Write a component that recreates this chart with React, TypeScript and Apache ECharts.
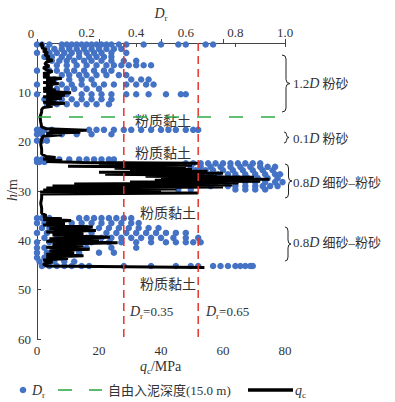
import React, { useEffect, useRef } from "react";
import * as echarts from "echarts";

const FONT = "'Liberation Serif', 'Noto Sans CJK SC', serif";
const TXT = "#333";

// Dr scatter rows: [depth (m), ...Dr values]
const drRowsUpperSilt: number[][] = [
  [0.3, 0.0, 0.02, 0.05, 0.1, 0.12, 0.14, 0.16, 0.18, 0.2, 0.22, 0.24, 0.26, 0.28, 0.3, 0.33, 0.36, 0.43, 0.5, 0.57, 0.6, 0.68, 0.71],
  [1.2, 0.04, 0.07, 0.1, 0.13, 0.16, 0.19, 0.22, 0.25, 0.28, 0.31, 0.34],
  [2.0, 0.0, 0.05, 0.08, 0.11, 0.14, 0.17, 0.2, 0.23, 0.26, 0.3, 0.36],
  [2.8, 0.03, 0.06, 0.1, 0.13, 0.17, 0.21, 0.24, 0.27, 0.3],
  [3.6, 0.06, 0.09, 0.12, 0.15, 0.19, 0.22, 0.26, 0.3, 0.35, 0.4],
  [4.5, 0.08, 0.12, 0.16, 0.2, 0.24, 0.28, 0.31, 0.34, 0.37, 0.4, 0.43, 0.46],
  [5.6, 0.0, 0.05, 0.08, 0.12, 0.15, 0.19, 0.23, 0.27, 0.3],
  [6.5, 0.1, 0.13, 0.17, 0.2, 0.24, 0.28, 0.33, 0.36],
  [7.4, 0.07, 0.13, 0.18, 0.22, 0.38, 0.42, 0.45],
  [8.4, 0.0, 0.1, 0.14, 0.18, 0.23, 0.27, 0.31, 0.36, 0.4, 0.44, 0.47],
  [9.3, 0.08, 0.12, 0.15, 0.2, 0.25],
  [10.4, 0.0, 0.12, 0.18, 0.22, 0.26, 0.3, 0.36, 0.4, 0.45, 0.52, 0.58, 0.6],
  [11.4, 0.03, 0.07, 0.1, 0.14, 0.18, 0.22, 0.26, 0.3],
  [12.4, 0.04, 0.08, 0.12, 0.16, 0.2, 0.24, 0.29],
];

const drRowsMiddle: number[][] = [
  [17.6, 0.0, 0.01, 0.03, 0.06, 0.21, 0.24, 0.27, 0.31, 0.35, 0.38, 0.42, 0.46, 0.5, 0.53, 0.56, 0.6, 0.63, 0.65],
  [18.5, 0.0, 0.02, 0.05, 0.1, 0.16, 0.22, 0.3],
  [19.8, 0.0, 0.02, 0.04],
  [23.6, 0.0, 0.02, 0.05, 0.09, 0.13, 0.17, 0.2, 0.23, 0.26, 0.29, 0.31],
  [24.1, 0.0, 0.01, 0.03],
];

const drRowsFineSand1: number[][] = [
  [24.4, 0.6, 0.63, 0.66, 0.69, 0.72, 0.75, 0.78, 0.81, 0.84, 0.87, 0.9],
  [25.1, 0.62, 0.66, 0.7, 0.74, 0.78, 0.82, 0.86, 0.9, 0.93, 0.96],
  [25.8, 0.64, 0.68, 0.71, 0.75, 0.79, 0.83, 0.87, 0.91, 0.95],
  [26.6, 0.66, 0.7, 0.73, 0.77, 0.8, 0.84, 0.88, 0.92, 0.96, 0.98],
  [27.4, 0.7, 0.74, 0.77, 0.81, 0.85, 0.89, 0.93, 0.97],
  [28.2, 0.68, 0.72, 0.76, 0.8, 0.84, 0.88, 0.92, 0.96, 0.99],
  [29.0, 0.7, 0.77, 0.8, 0.84, 0.88, 0.91, 0.94, 0.97],
  [29.7, 0.12, 0.31, 0.57, 0.62, 0.8, 0.84, 0.88, 0.92],
];

const drRowsFineSand2: number[][] = [
  [35.5, 0.0, 0.02, 0.05, 0.17, 0.2, 0.23, 0.26, 0.29, 0.32, 0.35, 0.38],
  [36.5, 0.0, 0.03, 0.06, 0.1, 0.14, 0.18, 0.22, 0.26, 0.3, 0.34, 0.38, 0.41],
  [37.5, 0.02, 0.05, 0.08, 0.13, 0.2, 0.25, 0.29, 0.33, 0.37, 0.41, 0.45, 0.49],
  [38.5, 0.0, 0.04, 0.1, 0.16, 0.22, 0.28, 0.32, 0.36, 0.4, 0.44, 0.48, 0.52, 0.56, 0.6],
  [39.5, 0.03, 0.08, 0.12, 0.2, 0.26, 0.3, 0.34, 0.38, 0.42, 0.46, 0.5, 0.55, 0.6, 0.65],
  [40.4, 0.0, 0.05, 0.22, 0.29, 0.34, 0.4, 0.46, 0.52, 0.56, 0.6, 0.63, 0.66],
  [41.5, 0.0, 0.03, 0.07, 0.12, 0.2, 0.3, 0.4],
  [42.5, 0.0, 0.04, 0.17, 0.25, 0.31],
  [43.5, 0.0, 0.03, 0.06, 0.1],
  [44.3, 0.01, 0.04, 0.07, 0.11, 0.15],
  [45.2, 0.02, 0.05, 0.08, 0.11, 0.14, 0.18, 0.21, 0.35, 0.46, 0.56, 0.62, 0.65, 0.71, 0.74, 0.77, 0.8, 0.82, 0.84, 0.86, 0.87],
];

// qc trace: [qc (MPa), depth (m)]
const qcTrace: number[][] = [
  [2, 0], [1, 0.3], [2, 0.6], [1.5, 1], [3, 1.3], [2, 1.7], [3.5, 2], [2.5, 2.4], [4, 2.8], [3, 3.2], [5, 3.5], [3, 3.9],
  [2.5, 4.3], [4, 4.7], [2, 5], [3, 5.4], [5, 5.8], [2, 6.2], [4, 6.5], [2, 6.9], [8, 7.2], [3, 7.4], [6, 7.8], [2, 8],
  [7, 8.2], [3, 8.5], [5, 8.9], [2, 9.2], [6, 9.5], [2, 9.8], [11, 10.1], [3, 10.3], [9, 10.6], [2, 10.9], [8, 11.2],
  [3, 11.5], [6, 11.8], [2, 12], [9, 12.2], [3, 12.5], [5, 12.8], [2, 13.1], [1.5, 13.5], [1.5, 14], [1, 15], [1.2, 16],
  [1.5, 17], [3, 17.4], [16, 17.7], [4, 17.9], [14, 18.1], [3, 18.3], [8, 18.6], [2, 18.9], [1.5, 19.5], [1.2, 20.5],
  [1.5, 21.5], [1.5, 22.5], [3, 23], [6, 23.2], [2, 23.5], [8, 23.8], [3, 24], [15, 24.2], [52, 24.4], [20, 24.6],
  [50, 24.8], [10, 25], [48, 25.2], [25, 25.4], [50, 25.6], [30, 25.8], [55, 26], [20, 26.2], [60, 26.4], [22, 26.6],
  [58, 26.8], [35, 27], [70, 27.2], [40, 27.4], [75, 27.6], [38, 27.8], [72, 28], [30, 28.2], [65, 28.4], [12, 28.6],
  [63, 28.8], [5, 29], [60, 29.2], [3, 29.4], [45, 29.6], [2, 29.8], [40, 30], [1, 30.2], [52, 30.4], [1.5, 30.6],
  [1.5, 31.5], [1.2, 32.5], [1.5, 33.5], [1.5, 34.5], [3, 35], [2, 35.3], [8, 35.6], [2, 35.8], [11, 36], [3, 36.3],
  [9, 36.6], [2, 36.9], [18, 37.3], [4, 37.6], [19, 38], [3, 38.3], [15, 38.6], [5, 38.9], [23.5, 39.4], [4, 39.7],
  [20, 40], [3, 40.2], [26, 40.5], [5, 40.8], [15, 41.1], [3, 41.4], [17, 41.8], [4, 42.1], [12, 42.5], [3, 42.8],
  [15, 43.1], [3, 43.4], [10, 43.7], [2, 44], [5, 44.4], [2, 44.8], [3, 45.2], [54, 45.5],
];

const mudDepth = 15.0;
const drThresholds = [0.35, 0.65];
const qcTicks = [0, 20, 40, 60, 80];
const drTicks = [0, 0.2, 0.4, 0.6, 0.8, 1.0];
const depthTicks = [0, 10, 20, 30, 40, 50, 60];

const rowsToPoints = (rows: number[][]) =>
  rows.flatMap(([d, ...vals]) => vals.map((v) => [v, d]));

const RICH = {
  i: { fontStyle: "italic", fontSize: 14, lineHeight: 18, fontFamily: FONT, fill: TXT, color: TXT },
  s: { fontSize: 9, lineHeight: 9, verticalAlign: "bottom", fontFamily: FONT, fill: TXT, color: TXT },
  n: { fontSize: 13, lineHeight: 18, fontFamily: FONT, fill: TXT, color: TXT },
};

function txt(text: string, x: number, y: number, align = "left", size = 13, rotation = 0) {
  return {
    type: "text",
    x,
    y,
    rotation,
    silent: true,
    style: {
      text,
      fontSize: size,
      lineHeight: 18,
      fontFamily: FONT,
      fill: TXT,
      align,
      verticalAlign: "middle",
      rich: RICH,
    },
  };
}

function brace(x: number, y1: number, y2: number, w: number) {
  const ym = (y1 + y2) / 2;
  const r = Math.min(4, (y2 - y1) / 4);
  const xm = x + w * 0.5;
  const st = { stroke: "#222", lineWidth: 1, fill: "none" };
  return {
    type: "group",
    silent: true,
    children: [
      { type: "bezierCurve", shape: { x1: x, y1: y1, cpx1: xm, cpy1: y1, x2: xm, y2: y1 + r }, style: st },
      { type: "line", shape: { x1: xm, y1: y1 + r, x2: xm, y2: ym - r }, style: st },
      { type: "bezierCurve", shape: { x1: xm, y1: ym - r, cpx1: xm, cpy1: ym, x2: x + w, y2: ym }, style: st },
      { type: "bezierCurve", shape: { x1: x + w, y1: ym, cpx1: xm, cpy1: ym, x2: xm, y2: ym + r }, style: st },
      { type: "line", shape: { x1: xm, y1: ym + r, x2: xm, y2: y2 - r }, style: st },
      { type: "bezierCurve", shape: { x1: xm, y1: y2 - r, cpx1: xm, cpy1: y2, x2: x, y2: y2 }, style: st },
    ],
  };
}

export default function App() {
  const ref = useRef<HTMLDivElement>(null);
  useEffect(() => {
    if (!ref.current) return;
    const chart = echarts.init(ref.current, undefined, { renderer: "svg" });
    const axisLine = { show: true, lineStyle: { color: "#444", width: 1 } };
    const axisLabel = { fontFamily: FONT, fontSize: 13, color: TXT };
    const option: any = {
      animation: false,
      backgroundColor: "#fff",
      grid: { left: 37, right: 110, top: 43, bottom: 63, containLabel: false, outerBoundsMode: "none" },
      xAxis: [
        {
          type: "value",
          position: "bottom",
          min: qcTicks[0],
          max: qcTicks[qcTicks.length - 1],
          interval: 20,
          axisLine,
          axisTick: { show: true, inside: true, length: 4, lineStyle: { color: "#444" } },
          axisLabel: { ...axisLabel, margin: 5 },
          splitLine: { show: false },
        },
        {
          type: "value",
          position: "top",
          min: drTicks[0],
          max: drTicks[drTicks.length - 1],
          interval: 0.2,
          axisLine,
          axisTick: { show: true, inside: true, length: 4, lineStyle: { color: "#444" } },
          axisLabel: {
            ...axisLabel,
            margin: 4,
            showMinLabel: false,
            formatter: (v: number) => (v === 0 ? "0" : v.toFixed(1)),
          },
          splitLine: { show: false },
        },
      ],
      yAxis: [
        {
          type: "value",
          inverse: true,
          min: depthTicks[0],
          max: depthTicks[depthTicks.length - 1],
          interval: 10,
          axisLine,
          axisTick: { show: true, inside: true, length: 4, lineStyle: { color: "#444" } },
          axisLabel: { ...axisLabel, margin: 6, showMinLabel: false },
          splitLine: { show: false },
        },
      ],
      series: [
        {
          name: "Dr",
          type: "scatter",
          xAxisIndex: 1,
          yAxisIndex: 0,
          symbolSize: 6.5,
          itemStyle: { color: "#4472C4", opacity: 1 },
          data: [
            ...rowsToPoints(drRowsUpperSilt),
            ...rowsToPoints(drRowsMiddle),
            ...rowsToPoints(drRowsFineSand1),
            ...rowsToPoints(drRowsFineSand2),
          ],
          z: 2,
        },
        {
          name: "qc",
          type: "line",
          xAxisIndex: 0,
          yAxisIndex: 0,
          showSymbol: false,
          symbol: "none",
          lineStyle: { color: "#000", width: 3 },
          data: qcTrace,
          z: 3,
        },
        {
          name: "mud",
          type: "line",
          xAxisIndex: 0,
          yAxisIndex: 0,
          symbol: "none",
          lineStyle: { color: "#2eaa48", width: 1.6, type: [14, 18] },
          data: [
            [qcTicks[0], mudDepth],
            [qcTicks[qcTicks.length - 1], mudDepth],
          ],
          z: 4,
        },
        ...drThresholds.map((t) => ({
          name: "th" + t,
          type: "line",
          xAxisIndex: 1,
          yAxisIndex: 0,
          symbol: "none",
          lineStyle: { color: "#e8332e", width: 1.5, type: [8, 5] },
          data: [
            [t, depthTicks[0]],
            [t, depthTicks[depthTicks.length - 1]],
          ],
          z: 5,
        })),
      ],
      graphic: [
        txt("{i|h}/m", 12, 190, "center", 14, Math.PI / 2),
        txt("0", 31, 33, "center"),
        txt("{i|D}{s|r}", 161, 13, "center"),
        txt("{i|q}{s|c}/MPa", 140, 366, "left", 14),
        txt("粉质黏土", 163, 121, "center", 14),
        txt("粉质黏土", 163, 153, "center", 14),
        txt("粉质黏土", 168, 213, "center", 14),
        txt("粉质黏土", 168, 284, "center", 14),
        txt("{i|D}{s|r}=0.35", 130, 311, "left", 13),
        txt("{i|D}{s|r}=0.65", 206, 311, "left", 13),
        brace(282, 55, 112, 8),
        txt("1.2{i|D} 粉砂", 293, 83, "left", 13),
        brace(284, 132, 143, 5),
        txt("0.1{i|D} 粉砂", 293, 138, "left", 13),
        brace(285, 164, 198, 7),
        txt("0.8{i|D} 细砂–粉砂", 293, 182, "left", 13),
        brace(285, 227, 261, 6),
        txt("0.8{i|D} 细砂–粉砂", 293, 242, "left", 13),
        // legend
        { type: "circle", silent: true, shape: { cx: 23, cy: 390, r: 3.3 }, style: { fill: "#4472C4" } },
        txt("{i|D}{s|r}", 32, 390, "left"),
        { type: "line", silent: true, shape: { x1: 58, y1: 390, x2: 72, y2: 390 }, style: { stroke: "#2eaa48", lineWidth: 1.6 } },
        { type: "line", silent: true, shape: { x1: 89, y1: 390, x2: 102, y2: 390 }, style: { stroke: "#2eaa48", lineWidth: 1.6 } },
        txt("自由入泥深度(15.0 m)", 108, 390, "left", 13),
        { type: "line", silent: true, shape: { x1: 248, y1: 390, x2: 293, y2: 390 }, style: { stroke: "#000", lineWidth: 3.5 } },
        txt("{i|q}{s|c}", 295, 390, "left"),
      ],
    };
    chart.setOption(option);
    return () => chart.dispose();
  }, []);
  return (
    <div
      ref={ref}
      style={{ position: "fixed", left: 0, top: 0, width: 395, height: 402, background: "#fff" }}
    />
  );
}
